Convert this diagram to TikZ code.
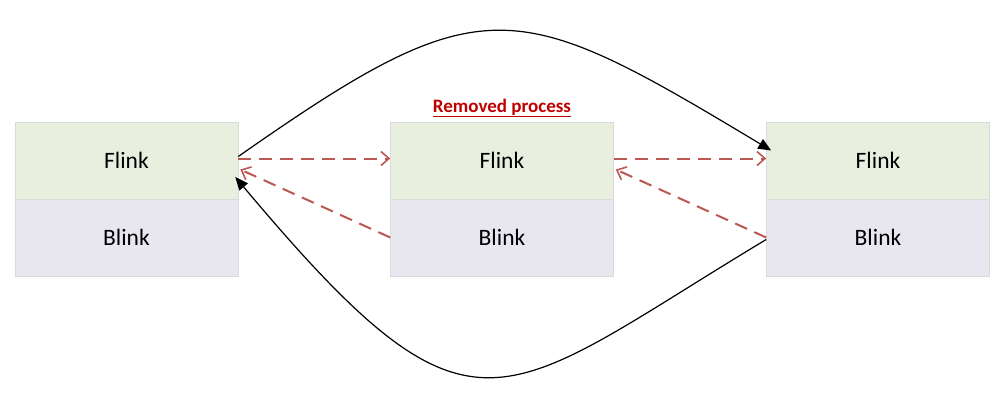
\documentclass[tikz,border=0pt]{standalone}
\usepackage{fontspec}
\setmainfont{Carlito}
\usetikzlibrary{arrows.meta,calc}
\definecolor{flinkfill}{RGB}{233,239,223}
\definecolor{blinkfill}{RGB}{232,231,240}
\definecolor{boxline}{RGB}{218,218,218}
\definecolor{dashred}{RGB}{188,88,82}
\definecolor{titlered}{RGB}{192,0,0}
\tikzset{
  half/.style={draw=boxline, line width=0.6pt, minimum width=223pt, minimum height=77pt,
    inner sep=0pt, font=\fontsize{23.5}{28}\selectfont, text=black},
  flinkbox/.style={half, fill=flinkfill},
  blinkbox/.style={half, fill=blinkfill},
  dasharrow/.style={draw=dashred, line width=2pt, dash pattern=on 13pt off 8pt,
    -{Straight Barb[length=8pt,width=14pt,line width=1.6pt]}},
  curvearrow/.style={draw=black, line width=1.2pt, -{Triangle[length=13pt,width=11pt]}}
}
\begin{document}
\begin{tikzpicture}[x=1pt,y=1pt]
\useasboundingbox (0,0) rectangle (1006,400);
% boxes
\node[flinkbox] (f1) at (126.5,239.5) {Flink};
\node[blinkbox] (b1) at (126.5,162.5) {Blink};
\node[flinkbox] (f2) at (502,239.5) {Flink};
\node[blinkbox] (b2) at (502,162.5) {Blink};
\node[flinkbox] (f3) at (878,239.5) {Flink};
\node[blinkbox] (b3) at (878,162.5) {Blink};
% title
\node[font=\fontsize{19}{22}\selectfont\bfseries, text=titlered, anchor=base, inner sep=0pt] (title) at (502,288)
  {\underline{Removed process}};
% helper coordinates
\coordinate (f1out) at ($(f1.east)+(0,4)$);
\coordinate (f1dash) at ($(f1.east)+(0,2)$);
\coordinate (f1in) at ($(f1.east)+(2,-9)$);
\coordinate (f1tip) at ($(f1.east)+(-3,-16.5)$);
\coordinate (f2out) at ($(f2.east)+(0,2)$);
\coordinate (f2in) at ($(f2.west)+(0,2)$);
\coordinate (f2back) at ($(f2.east)+(2,-9)$);
\coordinate (f3in) at ($(f3.west)+(0,2)$);
\coordinate (f3tip) at ($(f3.west)+(5,10)$);
\coordinate (b3out) at ($(b3.west)+(0,-2)$);
% dashed connectors
\draw[dasharrow] (f1dash) -- (f2in);
\draw[dasharrow] (f2out) -- (f3in);
\draw[dasharrow] (b2.west) -- (f1in);
\draw[dasharrow] (b3.west) -- (f2back);
% solid curves
\draw[curvearrow] (f1out) .. controls +(35:300) and +(149:300) .. (f3tip);
\draw[curvearrow] (b3out) .. controls +(211:315) and +(-50:374) .. (f1tip);
\end{tikzpicture}
\end{document}
